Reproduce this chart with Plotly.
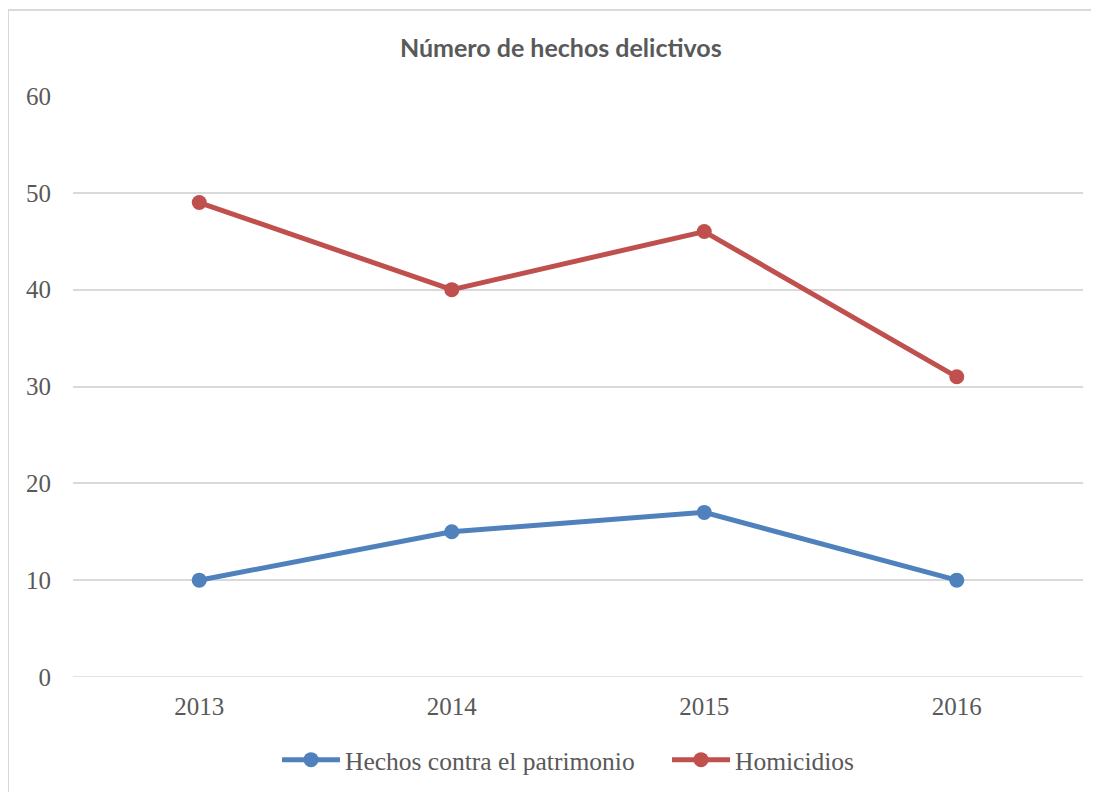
import plotly.graph_objects as go

years = ["2013", "2014", "2015", "2016"]
patrimonio = [10, 15, 17, 10]
homicidios = [49, 40, 46, 31]
y_ticks = [0, 10, 20, 30, 40, 50, 60]

serif = "Liberation Serif"
grey = "#595959"
border = "#D9D9D9"

W, H = 1099, 792
L, T, R, B = 65, 88, 24, 123
PW, PH = W - L - R, H - T - B

fig = go.Figure()
fig.add_trace(go.Scatter(
    x=years, y=patrimonio, mode="lines+markers", name="Hechos contra el patrimonio",
    line=dict(color="#4F81BD", width=5), marker=dict(size=15, color="#4F81BD"),
))
fig.add_trace(go.Scatter(
    x=years, y=homicidios, mode="lines+markers", name="Homicidios",
    line=dict(color="#C0504D", width=5), marker=dict(size=15, color="#C0504D"),
))

fig.update_layout(
    width=W, height=H,
    margin=dict(l=L, r=R, t=T, b=B),
    paper_bgcolor="white", plot_bgcolor="white",
    title=dict(text="<b>Número de hechos delictivos</b>", x=0.503, xanchor="center",
               y=1 - 40 / H, yanchor="middle",
               font=dict(family="Lato", size=25, color=grey)),
    xaxis=dict(type="category", range=[-0.5, 3.5], showgrid=False, zeroline=False,
               showline=False, ticks="", ticklabelstandoff=12,
               tickfont=dict(family=serif, size=25, color=grey)),
    yaxis=dict(range=[0, 60], tickvals=y_ticks, showgrid=True, gridcolor=border,
               gridwidth=1.5, zeroline=False, showline=False, ticks="",
               ticklabelstandoff=21,
               tickfont=dict(family=serif, size=25, color=grey)),
    legend=dict(orientation="h", x=0.202, xanchor="left", y=-0.143, yanchor="middle",
                font=dict(family=serif, size=25.5, color=grey), itemwidth=58,
                entrywidth=317, entrywidthmode="pixels", tracegroupgap=0),
    showlegend=True,
    shapes=[
        dict(type="line", xref="paper", yref="paper",
             x0=(0 - L) / PW, x1=1.2, y0=1 + (T - 2) / PH, y1=1 + (T - 2) / PH,
             line=dict(color=border, width=2)),
        dict(type="line", xref="paper", yref="paper",
             x0=(0 - L) / PW, x1=(0 - L) / PW, y0=-0.4, y1=1 + (T - 2) / PH,
             line=dict(color=border, width=2)),
    ],
)
fig.add_shape(type="line", xref="paper", yref="y", x0=0, x1=1, y0=0, y1=0,
              line=dict(color=border, width=1.5), layer="below")

fig.write_html("out.html", config={"displayModeBar": False})
